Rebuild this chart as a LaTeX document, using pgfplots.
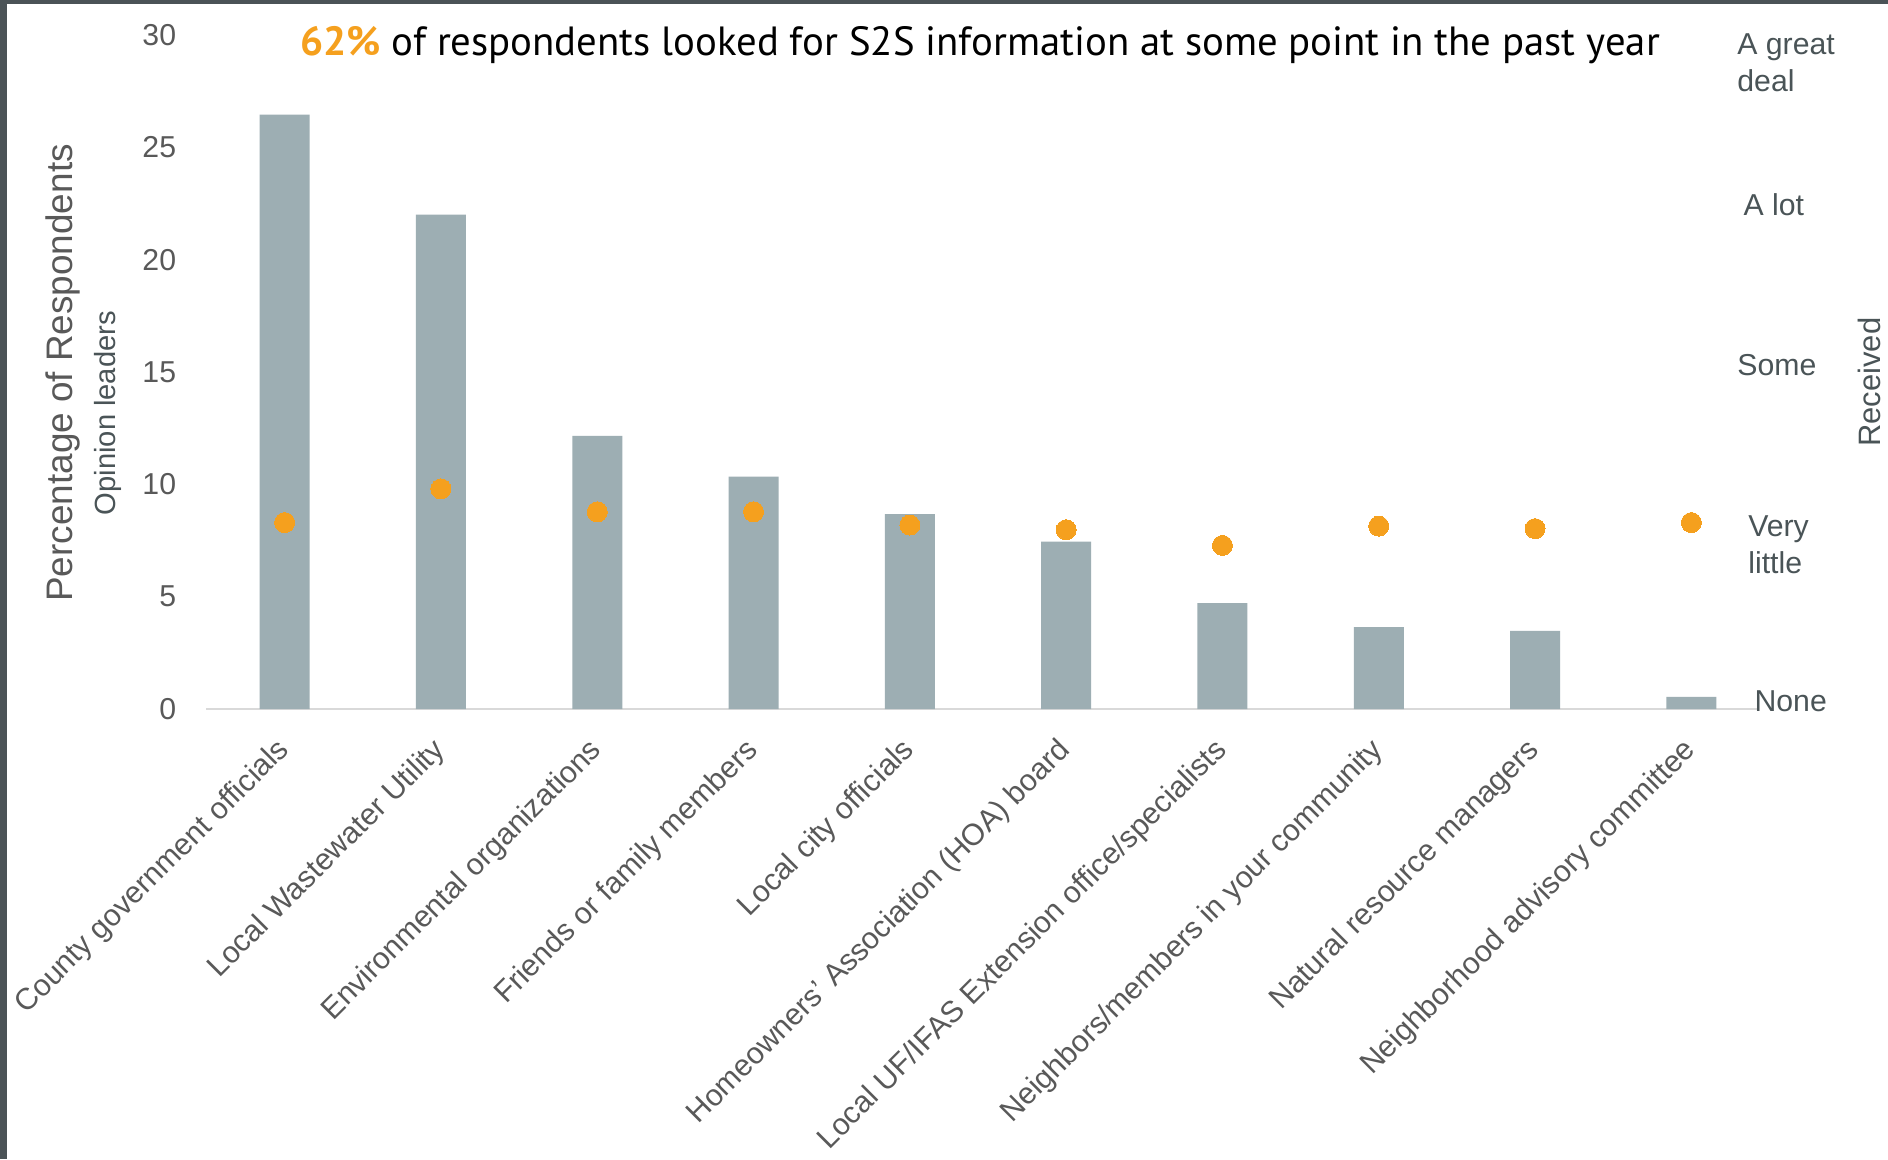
\documentclass[border=0pt]{standalone}
\usepackage{fontspec}
\setmainfont{Liberation Sans}
\newfontfamily\titlefont{PT Sans}
\usepackage{pgfplots}
\pgfplotsset{compat=1.18}
\definecolor{barcol}{HTML}{9DAEB3}
\definecolor{dotcol}{HTML}{F5A01E}
\definecolor{tickgray}{HTML}{595959}
\definecolor{rgray}{HTML}{4A5457}
\definecolor{framecol}{HTML}{4B5357}
\definecolor{linecol}{HTML}{D9D9D9}
\begin{document}
\begin{tikzpicture}
\useasboundingbox (-20.65mm,-45mm) rectangle (168.15mm,70.9mm);
\fill[white] (-20.65mm,-45mm) rectangle (168.15mm,70.9mm);
\begin{axis}[
  scale only axis, width=156.3mm, height=67.4mm,
  xmin=-0.5, xmax=9.5, ymin=0, ymax=30,
  axis line style={draw=none}, tick style={draw=none},
  clip=false,
  ytick={0,5,...,30},
  xtick={0,...,9},
  xticklabels={County government officials, Local Wastewater Utility, Environmental organizations, Friends or family members, Local city officials, {Homeowners’ Association (HOA) board}, Local UF/IFAS Extension office/specialists, Neighbors/members in your community, Natural resource managers, Neighborhood advisory committee},
  /pgf/number format/assume math mode=true,
  yticklabel style={font=\fontsize{8.6}{10}\selectfont, text=tickgray, xshift=-1.8mm},
  xticklabel style={font=\fontsize{8.6}{10}\selectfont, text=tickgray, xshift=-1mm, yshift=-2.6mm, rotate=45, anchor=north east, inner sep=0pt},
]
\draw[linecol, line width=0.2mm] (axis cs:-0.5,0) -- (axis cs:9.42,0);
\addplot[ybar, bar width=5mm, fill=barcol, draw=none] coordinates {
 (0,26.46) (1,22.01) (2,12.16) (3,10.34) (4,8.68) (5,7.45) (6,4.71) (7,3.64) (8,3.48) (9,0.54)};
\addplot[only marks, mark=*, color=dotcol, mark size=1.0mm, mark options={fill=dotcol, draw=dotcol, line width=0pt}] coordinates {
 (0,8.30) (1,9.80) (2,8.78) (3,8.78) (4,8.19) (5,7.98) (6,7.28) (7,8.14) (8,8.03) (9,8.30)};
\node[anchor=base, font=\titlefont\fontsize{11.6}{14}\selectfont] at (axis cs:4.45,29.1) {\textcolor{dotcol}{\bfseries 62\%} of respondents looked for S2S information at some point in the past year};
\node[rotate=90, font=\fontsize{10.5}{12}\selectfont, text=tickgray] at (axis cs:-1.417,14.96) {Percentage of Respondents};
\node[rotate=90, font=\fontsize{8.3}{10}\selectfont, text=rgray] at (axis cs:-1.129,13.17) {Opinion leaders};
\node[rotate=90, font=\fontsize{8.8}{10}\selectfont, text=rgray] at (axis cs:10.14,14.55) {Received};
\begin{scope}[every node/.style={anchor=west, align=left, inner sep=0pt, text=rgray, font=\fontsize{8.6}{10.5}\selectfont}]
\node at (axis cs:9.29,28.77) {A great\\deal};
\node at (axis cs:9.33,22.43) {A lot};
\node at (axis cs:9.29,15.3) {Some};
\node at (axis cs:9.36,7.3) {Very\\little};
\node at (axis cs:9.40,0.36) {None};
\end{scope}
\end{axis}
\fill[framecol] (-20.65mm,-45mm) rectangle (-19.9mm,70.9mm);
\fill[framecol] (-20.65mm,70.5mm) rectangle (168.15mm,70.9mm);
\end{tikzpicture}
\end{document}
